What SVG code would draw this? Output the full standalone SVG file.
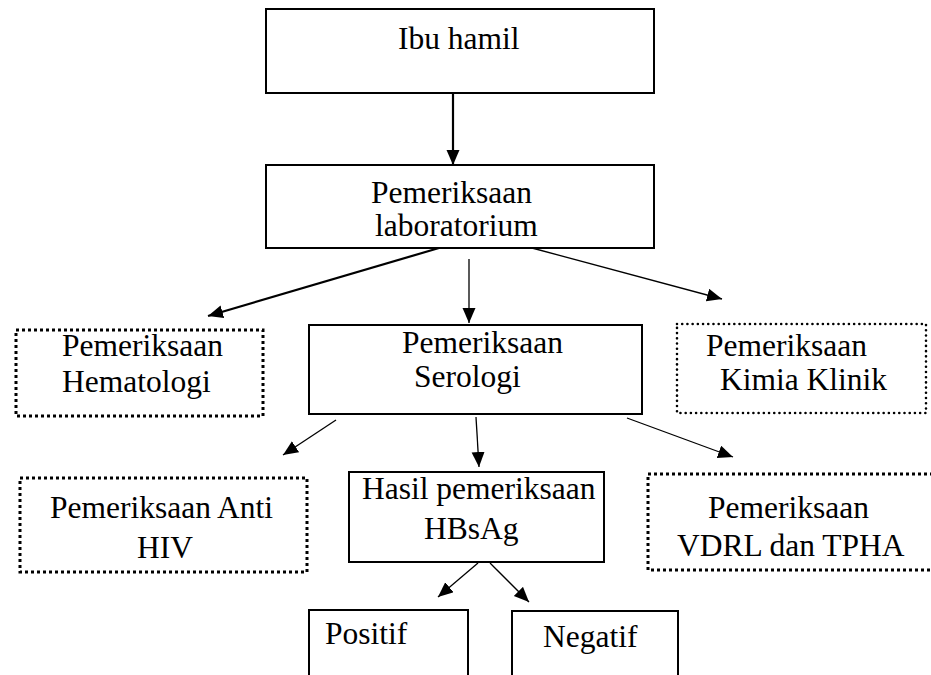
<svg xmlns="http://www.w3.org/2000/svg" width="931" height="675" viewBox="0 0 931 675">
<style>
  text { font-family: "Liberation Serif", "Times New Roman", serif; font-size: 31.5px; fill: #000; }
  .box { fill: #fff; stroke: #000; stroke-width: 2; }
  .sq { fill: #fff; stroke: #000; stroke-width: 3; stroke-dasharray: 3 3; }
  .rd { fill: #fff; stroke: #000; stroke-width: 2.6; stroke-dasharray: 0.01 5.2; stroke-linecap: round; }
  .c { fill: none; stroke: #000; stroke-width: 1.3; marker-end: url(#ah); }
  .c2 { fill: none; stroke: #000; stroke-width: 2.2; marker-end: url(#ah); }
</style>
<defs>
  <marker id="ah" markerUnits="userSpaceOnUse" markerWidth="16" markerHeight="14" refX="15" refY="6.5" orient="auto">
    <path d="M0,0 L15,6.5 L0,13 z" fill="#000"/>
  </marker>
</defs>
<rect width="931" height="675" fill="#fff"/>

<g id="connectors">
  <line class="c2" x1="453" y1="93" x2="453" y2="165"/>
  <line class="c2" x1="439" y1="248" x2="208" y2="316"/>
  <line class="c" x1="469" y1="259" x2="469" y2="323"/>
  <line class="c" x1="532" y1="248" x2="722" y2="299"/>
  <line class="c" x1="336" y1="420" x2="283" y2="455"/>
  <line class="c" x1="476" y1="417" x2="479" y2="467"/>
  <line class="c" x1="627" y1="418" x2="733" y2="457"/>
  <line class="c" x1="478" y1="563" x2="438" y2="597"/>
  <line class="c" x1="490" y1="563" x2="529" y2="602"/>
</g>

<g id="ibu-hamil">
  <rect class="box" x="266" y="9" width="388" height="84"/>
  <text x="398" y="49">Ibu hamil</text>
</g>

<g id="laboratorium">
  <rect class="box" x="266" y="165" width="388" height="83"/>
  <text x="371" y="203">Pemeriksaan</text>
  <text x="375" y="236">laboratorium</text>
</g>

<g id="hematologi">
  <rect class="sq" x="16" y="330" width="247" height="86"/>
  <text x="62" y="356">Pemeriksaan</text>
  <text x="62" y="392">Hematologi</text>
</g>

<g id="serologi">
  <rect class="box" x="309" y="325" width="333" height="89"/>
  <text x="402" y="353">Pemeriksaan</text>
  <text x="414" y="387">Serologi</text>
</g>

<g id="kimia-klinik">
  <rect class="rd" x="677" y="324" width="249" height="89"/>
  <text x="706" y="356">Pemeriksaan</text>
  <text x="720" y="390">Kimia Klinik</text>
</g>

<g id="anti-hiv">
  <rect class="sq" x="20" y="478" width="287" height="94"/>
  <text x="50" y="518">Pemeriksaan Anti</text>
  <text x="137" y="558">HIV</text>
</g>

<g id="hbsag">
  <rect class="box" x="349" y="472" width="255" height="90"/>
  <text x="362" y="499">Hasil pemeriksaan</text>
  <text x="424" y="539">HBsAg</text>
</g>

<g id="vdrl-tpha">
  <rect class="sq" x="648" y="474" width="300" height="96"/>
  <text x="708" y="518">Pemeriksaan</text>
  <text x="677" y="556">VDRL dan TPHA</text>
</g>

<g id="positif">
  <rect class="box" x="309" y="610" width="159" height="80"/>
  <text x="325" y="644">Positif</text>
</g>

<g id="negatif">
  <rect class="box" x="512" y="611" width="166" height="80"/>
  <text x="543" y="647">Negatif</text>
</g>
</svg>
